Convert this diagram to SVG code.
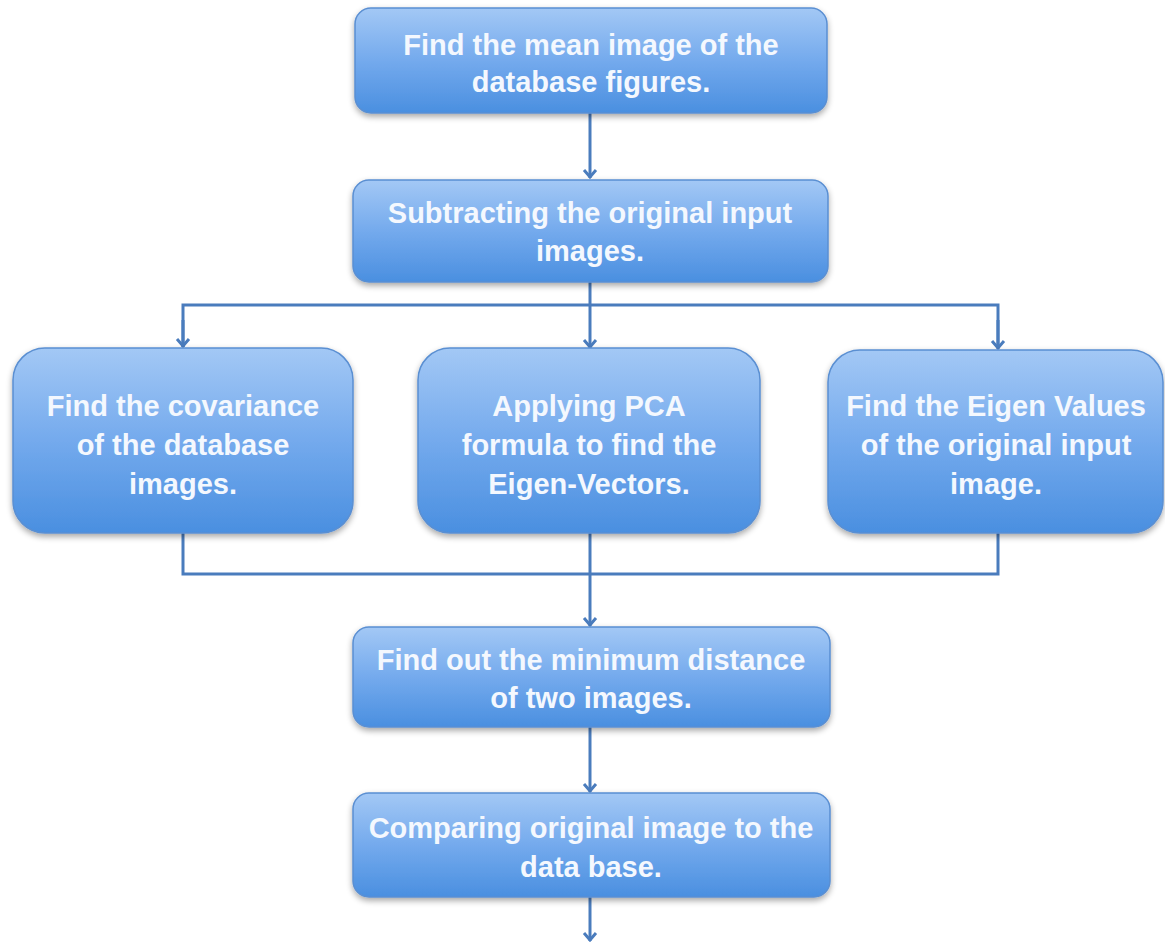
<svg xmlns="http://www.w3.org/2000/svg" width="1165" height="942" viewBox="0 0 1165 942">
<style>
.box{fill:url(#g);stroke:#5a8fd2;stroke-width:1.5;filter:url(#sh)}
.t{font-family:"Liberation Sans",Arial,sans-serif;font-weight:bold;font-size:29px;fill:#f4f8fe;text-anchor:middle}
.c{fill:none;stroke:#4a7cbd;stroke-width:3}
</style>
<defs>
<linearGradient id="g" x1="0" y1="0" x2="0" y2="1">
<stop offset="0" stop-color="#a3c8f5"/>
<stop offset="0.5" stop-color="#74aaed"/>
<stop offset="1" stop-color="#4a8fe0"/>
</linearGradient>
<filter id="sh" x="-10%" y="-10%" width="120%" height="130%">
<feGaussianBlur in="SourceAlpha" stdDeviation="3"/>
<feOffset dx="0" dy="3" result="b"/>
<feComponentTransfer><feFuncA type="linear" slope="0.35"/></feComponentTransfer>
<feMerge><feMergeNode/><feMergeNode in="SourceGraphic"/></feMerge>
</filter>
<marker id="a" viewBox="0 0 12 14" refX="11" refY="7" markerWidth="12" markerHeight="14" markerUnits="userSpaceOnUse" orient="auto" overflow="visible">
<polyline points="3,1 10,7 3,13" fill="none" stroke="#4a7cbd" stroke-width="3"/>
</marker>
</defs>
<rect width="1165" height="942" fill="#ffffff"/>
<g id="connectors">
<line class="c" x1="590" y1="113" x2="590" y2="178" marker-end="url(#a)"/>
<line class="c" x1="590" y1="282" x2="590" y2="348" marker-end="url(#a)"/>
<polyline class="c" points="183,347 183,305 998,305 998,348"/>
<line class="c" x1="183" y1="320" x2="183" y2="347" marker-end="url(#a)"/>
<line class="c" x1="998" y1="320" x2="998" y2="349" marker-end="url(#a)"/>
<polyline class="c" points="183,533 183,574 998,574 998,533"/>
<line class="c" x1="590" y1="533" x2="590" y2="626" marker-end="url(#a)"/>
<line class="c" x1="590" y1="727" x2="590" y2="792" marker-end="url(#a)"/>
<line class="c" x1="590" y1="897" x2="590" y2="941" marker-end="url(#a)"/>
</g>
<g id="n1">
<rect class="box" x="355" y="8" width="472" height="105" rx="16"/>
<text class="t" x="591" y="55">Find the mean image of the</text>
<text class="t" x="591" y="92">database figures.</text>
</g>
<g id="n2">
<rect class="box" x="353" y="180" width="475" height="102" rx="16"/>
<text class="t" x="590" y="223">Subtracting the original input</text>
<text class="t" x="590" y="261">images.</text>
</g>
<g id="n3">
<rect class="box" x="13" y="348" width="340" height="185" rx="32"/>
<text class="t" x="183" y="416">Find the covariance</text>
<text class="t" x="183" y="455">of the database</text>
<text class="t" x="183" y="494">images.</text>
</g>
<g id="n4">
<rect class="box" x="418" y="348" width="342" height="185" rx="32"/>
<text class="t" x="589" y="416">Applying PCA</text>
<text class="t" x="589" y="455">formula to find the</text>
<text class="t" x="589" y="494">Eigen-Vectors.</text>
</g>
<g id="n5">
<rect class="box" x="828" y="350" width="335" height="183" rx="32"/>
<text class="t" x="996" y="416">Find the Eigen Values</text>
<text class="t" x="996" y="455">of the original input</text>
<text class="t" x="996" y="494">image.</text>
</g>
<g id="n6">
<rect class="box" x="353" y="627" width="477" height="100" rx="16"/>
<text class="t" x="591" y="670">Find out the minimum distance</text>
<text class="t" x="591" y="708">of two images.</text>
</g>
<g id="n7">
<rect class="box" x="353" y="793" width="477" height="104" rx="16"/>
<text class="t" x="591" y="838">Comparing original image to the</text>
<text class="t" x="591" y="877">data base.</text>
</g>
</svg>
